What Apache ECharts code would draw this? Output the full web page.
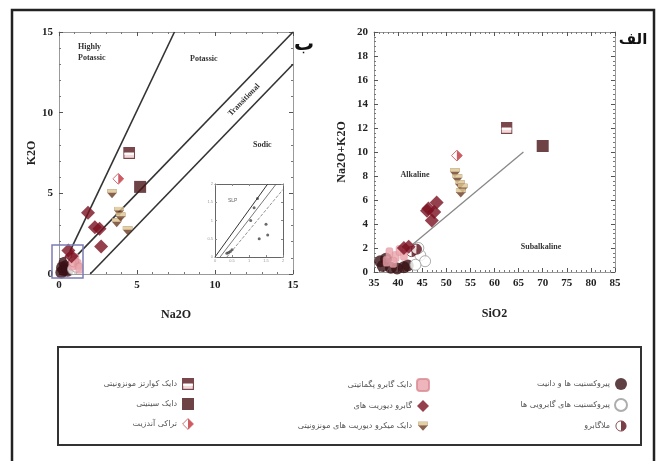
<!DOCTYPE html>
<html><head><meta charset="utf-8">
<script src="https://cdn.jsdelivr.net/npm/echarts@6/dist/echarts.min.js"></script>
<style>html,body{margin:0;padding:0;background:#fff}#c{width:661px;height:461px}</style>
</head><body><div id="c"></div>
<script>
// ---- legend / series names (RTL columns: right, middle, left) ----
const seriesNames = [
  'پیروکسنیت ها و دانیت',
  'پیروکسنیت های گابرویی ها',
  'ملاگابرو',
  'دایک گابرو پگماتیتی',
  'گابرو دیوریت های',
  'دایک میکرو دیوریت های مونزونیتی',
  'دایک کوارتز مونزونیتی',
  'دایک سینیتی',
  'تراکی آندزیت'
];

// ---- left diagram (Na2O vs K2O) ----
const leftTicks = [0, 5, 10, 15];
const leftDarkCircle = [[0.15,0.1],[0.3,0.25],[0.45,0.5],[0.2,0.4],[0.55,0.2],[0.35,0.7]];
const leftOpenCircle = [[0.9,0.3],[1.1,0.45]];
const leftHalfCircle = [[0.75,1.0],[0.95,0.75]];
const leftPink = [[1.2,0.6],[1.05,0.95],[1.3,0.35],[0.85,0.55]];
const leftDiamond = [[1.86,3.8],[2.3,2.9],[2.6,2.8],[2.7,1.7],[0.6,1.45],[0.8,1.1]];
const leftTan = [[3.4,5.0],[3.85,3.9],[3.7,3.2],[4.4,2.7],[3.95,3.55]];
const leftHalfSquare = [[4.5,7.5]];
const leftDarkSquare = [[5.2,5.4]];
const leftHalfDiamond = [[3.8,5.9]];
const leftBoundHighly = [[0.7,1.4],[7.4,15]];
const leftBoundPotassic = [[0.8,0.8],[15,15]];
const leftBoundSodic = [[2,0],[15,13]];

// ---- inset ----
const insetLineA = [[0,0],[1.55,2]];
const insetLineB = [[0.15,0],[1.8,2]];
const insetLineC = [[0.35,0],[2,1.85]];
const insetPoints = [[0.35,0.1],[0.45,0.15],[0.5,0.2],[0.4,0.12],[1.25,1.6],[1.15,1.35],[1.5,0.9],[1.55,0.6],[1.3,0.5],[1.05,1.0]];

// ---- right diagram (SiO2 vs Na2O+K2O) ----
const rightDarkCircle = [[36.8,0.5],[38.5,0.35],[39.8,0.3],[41.2,0.4],[42,0.55],[36.3,0.9],[37.5,1.1]];
const rightOpenCircle = [[44.6,1.4],[45.6,0.9],[43.6,0.6],[44.2,2.0]];
const rightHalfCircle = [[42.8,1.7],[43.8,1.9]];
const rightPink = [[38.2,1.6],[39.5,1.3],[40.3,1.8],[41.2,1.4],[37.6,0.9],[39,0.8]];
const rightDiamond = [[46.3,5.3],[48,5.8],[47,4.3],[47.5,5.0],[46,5.1],[41.2,2.0],[42.2,2.1]];
const rightTan = [[51.8,8.3],[52.3,7.8],[52.8,7.3],[53.4,7.0],[53.0,6.6]];
const rightHalfSquare = [[62.5,12]];
const rightDarkSquare = [[70,10.5]];
const rightHalfDiamond = [[52.2,9.7]];
const rightBoundAlk = [[43,2.3],[66,10]];

// ---- symbols ----
function svg(s){ return 'image://data:image/svg+xml;charset=utf-8,' + encodeURIComponent('<svg xmlns="http://www.w3.org/2000/svg" width="20" height="20" viewBox="0 0 20 20">' + s + '</svg>'); }
const symHalfSquare = svg('<rect x="1" y="1" width="18" height="18" fill="#f2d0d0" stroke="#5a1a20" stroke-width="2"/><rect x="1" y="1" width="18" height="8" fill="#5a1a20"/><rect x="2" y="10" width="16" height="3" fill="#fff"/>');
const symHalfDiamond = svg('<path d="M10 1 L19 10 L10 19 L1 10Z" fill="#fff" stroke="#c2323c" stroke-width="1.5"/><path d="M10 1 L19 10 L10 19Z" fill="#c2323c"/>');
const symHalfCircle = svg('<circle cx="10" cy="10" r="8.5" fill="#fff" stroke="#5a0f18" stroke-width="1.5"/><path d="M10 1.5 A8.5 8.5 0 0 1 10 18.5 Z" fill="#5a0f18"/>');
const symTan = svg('<path d="M2 3 H18 V9 L10 18 L2 9Z" fill="#6b3a24"/><path d="M2 3 H18 V9 H2Z" fill="#dcc690"/>');

const styles = [
  {symbol:'circle', size:12, item:{color:'#3a1015'}},
  {symbol:'circle', size:11, item:{color:'#fff', borderColor:'#999', borderWidth:1}},
  {symbol:symHalfCircle, size:12, item:{}},
  {symbol:'roundRect', size:[7,10], item:{color:'#eaa4ab', borderColor:'#d98a92', borderWidth:0.5}},
  {symbol:'diamond', size:14, item:{color:'#7a1020'}},
  {symbol:symTan, size:12, item:{}},
  {symbol:symHalfSquare, size:12, item:{}},
  {symbol:'rect', size:12, item:{color:'#4a1418'}},
  {symbol:symHalfDiamond, size:12, item:{}}
];

const leftSets = [leftDarkCircle,leftOpenCircle,leftHalfCircle,leftPink,leftDiamond,leftTan,leftHalfSquare,leftDarkSquare,leftHalfDiamond];
const rightSets = [rightDarkCircle,rightOpenCircle,rightHalfCircle,rightPink,rightDiamond,rightTan,rightHalfSquare,rightDarkSquare,rightHalfDiamond];

const tickFont = {fontFamily:'Liberation Serif', fontWeight:'bold', fontSize:11, color:'#222'};
const nameFont = {fontFamily:'Liberation Serif', fontWeight:'bold', fontSize:12, color:'#222'};

function mainAxis(grid, min, max, interval, pos, showLabel, name, nameGap){
  return {
    type:'value', gridIndex:grid, min:min, max:max, interval:interval, position:pos,
    name: name || '', nameLocation:'middle', nameGap: nameGap || 0, nameTextStyle: nameFont,
    axisLine:{show:true, onZero:false, lineStyle:{color:'#9a9a9a', width:1}},
    axisTick:{show:true, inside:true, length:4, lineStyle:{color:'#555'}},
    minorTick:{show:true, splitNumber:5, length:2, lineStyle:{color:'#777'}},
    axisLabel: showLabel ? Object.assign({margin:6}, tickFont) : {show:false},
    splitLine:{show:false}
  };
}
function insetAxis(grid, pos, showLabel){
  return {
    type:'value', gridIndex:grid, min:0, max:2, interval:0.5, position:pos,
    axisLine:{show:true, onZero:false, lineStyle:{color:'#666', width:1}},
    axisTick:{show:true, inside:true, length:2, lineStyle:{color:'#888'}},
    axisLabel: showLabel ? {fontSize:4, color:'#999', margin:2} : {show:false},
    splitLine:{show:false}
  };
}

const series = [];
function addScatter(sets, xi, yi){
  sets.forEach((d, i) => {
    const st = styles[i];
    series.push({
      type:'scatter', name: seriesNames[i], xAxisIndex:xi, yAxisIndex:yi,
      data:d, symbol:st.symbol, symbolSize:st.size, itemStyle:st.item, z:5
    });
  });
}
function addLine(d, xi, yi, color, width, type){
  series.push({type:'line', data:d, xAxisIndex:xi, yAxisIndex:yi, symbol:'none', silent:true,
    lineStyle:{color:color, width:width, type:type||'solid'}, z:3});
}
addLine(leftBoundHighly, 0, 0, '#333', 1.6);
addLine(leftBoundPotassic, 0, 0, '#333', 1.6);
addLine(leftBoundSodic, 0, 0, '#333', 1.6);
addLine(rightBoundAlk, 2, 2, '#888', 1.3);
addLine(insetLineA, 4, 4, '#333', 1);
addLine(insetLineB, 4, 4, '#555', 0.8);
addLine(insetLineC, 4, 4, '#777', 0.8, 'dashed');
addScatter(leftSets, 0, 0);
addScatter(rightSets, 2, 2);
series.push({type:'scatter', xAxisIndex:4, yAxisIndex:4, data:insetPoints, symbolSize:3, itemStyle:{color:'#444'}});

const legendBase = {orient:'vertical', align:'right', itemWidth:12, itemHeight:12, itemGap:8, selectedMode:false,
  textStyle:{fontFamily:'DejaVu Sans', fontSize:8, color:'#555'}, top:373};

const textStyleSmall = {fontFamily:'Liberation Serif', fontWeight:'bold', fontSize:8, fill:'#333'};

const option = {
  backgroundColor:'#fff',
  animation:false,
  grid:[
    {left:59, top:32, width:234, height:242},
    {left:374, top:32, width:241, height:240},
    {left:215, top:184, width:68, height:73}
  ],
  xAxis:[
    mainAxis(0, 0, 15, 5, 'bottom', true, 'Na2O', 35),
    mainAxis(0, 0, 15, 5, 'top', false),
    mainAxis(1, 35, 85, 5, 'bottom', true, 'SiO2', 36),
    mainAxis(1, 35, 85, 5, 'top', false),
    insetAxis(2, 'bottom', true),
    insetAxis(2, 'top', false)
  ],
  yAxis:[
    mainAxis(0, 0, 15, 5, 'left', true, 'K2O', 21),
    mainAxis(0, 0, 15, 5, 'right', false),
    mainAxis(1, 0, 20, 2, 'left', true, 'Na2O+K2O', 26),
    mainAxis(1, 0, 20, 2, 'right', false),
    insetAxis(2, 'left', true),
    insetAxis(2, 'right', false)
  ],
  legend:[
    Object.assign({data:seriesNames.slice(0,3), right:28}, legendBase),
    Object.assign({data:seriesNames.slice(3,6), right:226}, legendBase),
    Object.assign({data:seriesNames.slice(6,9), right:462}, legendBase)
  ],
  series: series,
  graphic:[
    {type:'rect', shape:{x:12, y:10, width:642, height:470}, style:{fill:'none', stroke:'#222', lineWidth:2.5}, silent:true},
    {type:'rect', shape:{x:58, y:347, width:583, height:98}, style:{fill:'none', stroke:'#333', lineWidth:2}, silent:true},
    {type:'rect', shape:{x:52, y:245, width:31, height:33}, style:{fill:'none', stroke:'#7c7cb4', lineWidth:1.5}, silent:true, z:10},
    {type:'text', left:78, top:41, style:Object.assign({text:'Highly\nPotassic', lineHeight:11}, textStyleSmall)},
    {type:'text', left:190, top:55, style:Object.assign({text:'Potassic'}, textStyleSmall)},
    {type:'text', x:244, y:100, rotation:0.8, style:Object.assign({text:'Transitional', align:'center', verticalAlign:'middle'}, textStyleSmall)},
    {type:'text', left:253, top:141, style:Object.assign({text:'Sodic'}, textStyleSmall)},
    {type:'text', x:228, y:198, style:{text:'SLP', fontSize:5, fill:'#666'}},
    {type:'text', x:415, y:175, style:Object.assign({text:'Alkaline', align:'center', verticalAlign:'middle'}, textStyleSmall)},
    {type:'text', x:541, y:247, style:Object.assign({text:'Subalkaline', align:'center', verticalAlign:'middle'}, textStyleSmall)},
    {type:'text', x:304, y:45, style:{text:'ب', fontFamily:'DejaVu Sans', fontWeight:'bold', fontSize:20, fill:'#111', align:'center', verticalAlign:'middle'}},
    {type:'text', x:633, y:40, style:{text:'الف', fontFamily:'DejaVu Sans', fontWeight:'bold', fontSize:15, fill:'#111', align:'center', verticalAlign:'middle'}}
  ]
};
const chart = echarts.init(document.getElementById('c'), null, {renderer:'canvas'});
chart.setOption(option);
</script>
</body></html>
